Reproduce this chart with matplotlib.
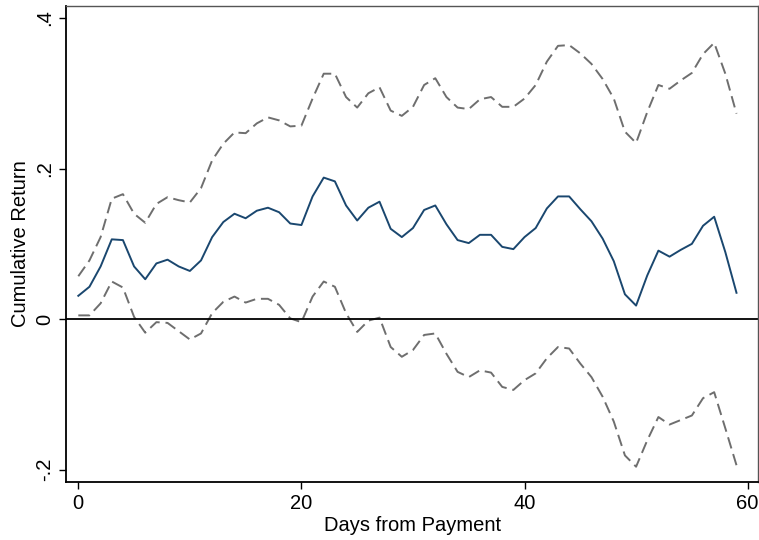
import matplotlib
matplotlib.use("Agg")
import matplotlib.pyplot as plt
from matplotlib.ticker import FuncFormatter

plt.rcParams['font.family'] = ['Liberation Sans', 'DejaVu Sans']

days = list(range(60))

mean_ret = [0.031, 0.043, 0.070, 0.106, 0.105, 0.070, 0.053, 0.074, 0.079, 0.070,
            0.064, 0.078, 0.109, 0.129, 0.140, 0.134, 0.144, 0.148, 0.142, 0.127,
            0.125, 0.163, 0.188, 0.183, 0.151, 0.131, 0.148, 0.156, 0.120, 0.109,
            0.121, 0.145, 0.151, 0.126, 0.105, 0.101, 0.112, 0.112, 0.096, 0.093,
            0.109, 0.121, 0.147, 0.163, 0.163, 0.146, 0.130, 0.107, 0.077, 0.033,
            0.018, 0.058, 0.091, 0.083, 0.092, 0.100, 0.124, 0.136, 0.089, 0.035]

upper_ci = [0.057, 0.078, 0.109, 0.160, 0.166, 0.140, 0.128, 0.153, 0.162, 0.158,
            0.155, 0.174, 0.211, 0.233, 0.248, 0.247, 0.260, 0.268, 0.264, 0.256,
            0.257, 0.293, 0.326, 0.326, 0.295, 0.281, 0.300, 0.308, 0.277, 0.270,
            0.282, 0.311, 0.320, 0.295, 0.281, 0.279, 0.292, 0.295, 0.282, 0.282,
            0.293, 0.311, 0.342, 0.363, 0.364, 0.353, 0.339, 0.319, 0.293, 0.249,
            0.234, 0.275, 0.311, 0.306, 0.317, 0.327, 0.352, 0.367, 0.326, 0.273]

lower_ci = [0.005, 0.005, 0.021, 0.050, 0.042, 0.003, -0.018, -0.004, -0.005, -0.016,
            -0.027, -0.019, 0.008, 0.023, 0.030, 0.022, 0.027, 0.027, 0.019, 0.001,
            -0.004, 0.030, 0.050, 0.043, 0.008, -0.017, -0.002, 0.002, -0.037, -0.050,
            -0.041, -0.021, -0.019, -0.046, -0.070, -0.077, -0.068, -0.071, -0.090, -0.094,
            -0.081, -0.072, -0.052, -0.037, -0.039, -0.059, -0.077, -0.103, -0.136, -0.181,
            -0.196, -0.161, -0.130, -0.140, -0.134, -0.128, -0.105, -0.097, -0.145, -0.194]

x_ticks = [0, 20, 40, 60]
y_ticks = [-0.2, 0, 0.2, 0.4]


def stata_fmt(v, pos):
    if abs(v) < 1e-9:
        return "0"
    s = "%g" % v
    return s.replace("0.", ".")


fig = plt.figure(figsize=(7.59, 5.40), dpi=100)
ax = fig.add_axes([0.087, 0.107, 0.912, 0.882])

ax.plot(days, upper_ci, color="#6e6e6e", lw=1.4, ls=(0, (6, 3)))
ax.plot(days, lower_ci, color="#6e6e6e", lw=1.4, ls=(0, (6, 3)))
ax.plot(days, mean_ret, color="#1a476f", lw=1.4)
ax.axhline(0, color="black", lw=1.3)

ax.set_xlim(-1.1, 60.95)
ax.set_ylim(-0.2166, 0.416)
ax.set_xticks(x_ticks)
ax.set_yticks(y_ticks)
ax.yaxis.set_major_formatter(FuncFormatter(stata_fmt))
ax.tick_params(direction="out", length=5, width=1, labelsize=14.5, colors="black")
for lab in ax.get_yticklabels():
    lab.set_rotation(90)
    lab.set_va("center")

ax.set_xlabel("Days from Payment", fontsize=14.5, labelpad=2)
ax.set_ylabel("Cumulative Return", fontsize=14.5, labelpad=4)

for side in ["left", "bottom"]:
    ax.spines[side].set_linewidth(1.3)
    ax.spines[side].set_color("black")
for side in ["top", "right"]:
    ax.spines[side].set_linewidth(1.0)
    ax.spines[side].set_color("#555555")

fig.savefig("out.png", dpi=100)
